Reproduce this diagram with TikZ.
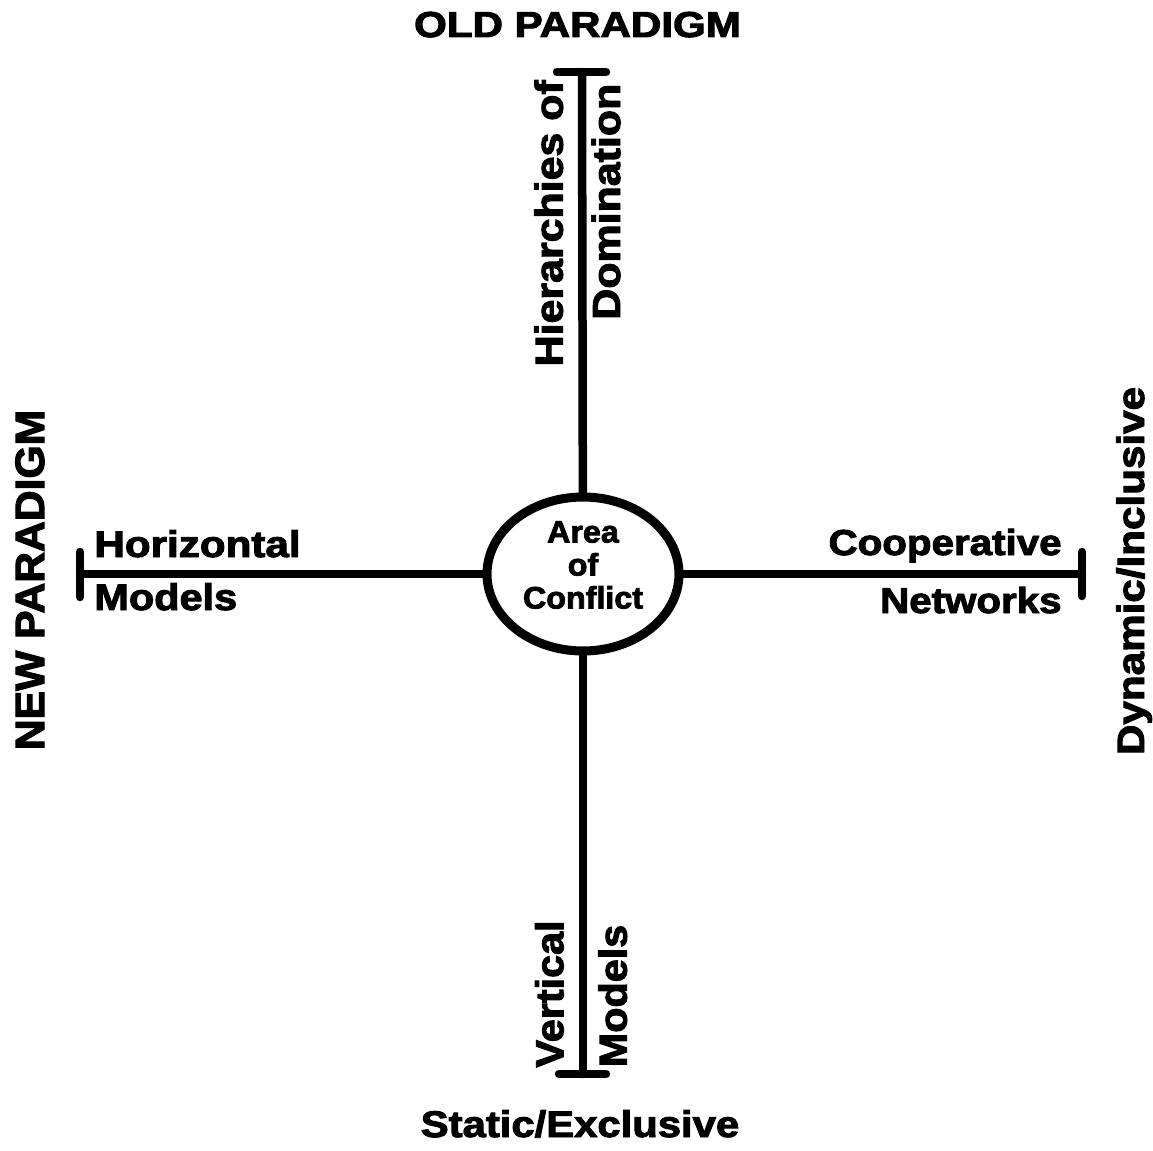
\documentclass[tikz,border=0pt]{standalone}
\usepackage{fontspec}
\setmainfont{Liberation Sans}[BoldFeatures={FakeBold=2.5}]
\usepackage{graphicx}
\usetikzlibrary{shapes.geometric, calc}
\newcommand{\wide}[2]{\scalebox{#1}[1]{#2}}
\tikzset{
  axis/.style={draw=black, line width=4.25pt, line cap=round},
  conflict/.style={draw=black, ellipse, line width=4.5pt, minimum width=96pt, minimum height=77pt, inner sep=0pt},
  paradigm/.style={font=\bfseries\fontsize{18.5}{21}\selectfont, inner sep=0pt, anchor=base},
  sidelabel/.style={font=\bfseries\fontsize{18.5}{21}\selectfont, inner sep=0pt},
  stemlabel/.style={font=\bfseries\fontsize{19.5}{22}\selectfont, inner sep=0pt, anchor=base, rotate=90},
  centrelabel/.style={font=\bfseries\fontsize{15.5}{16.5}\selectfont, inner sep=0pt, align=center}
}
\begin{document}
\begin{tikzpicture}[x=0.5pt, y=0.5pt]
  \useasboundingbox (0,0) rectangle (1153,-1151);

  % centre and the four axis ends
  \node [conflict] (conflict) at (583,-574) {};
  \node [centrelabel] (conflicttext) at (583,-565) {\wide{1.04}{Area}\\\wide{1.04}{of}\\\wide{1.04}{Conflict}};
  \coordinate (top) at (582,-72);
  \coordinate (bottom) at (583,-1074);
  \coordinate (left) at (80,-574);
  \coordinate (right) at (1082,-574);

  \draw [axis] (conflict) -- (top);
  \draw [axis] (conflict) -- (bottom);
  \draw [axis] (conflict) -- (left);
  \draw [axis] (conflict) -- (right);
  \draw [axis] ($(top)+(-25,0)$) -- ($(top)+(24,0)$);
  \draw [axis] ($(bottom)+(-24,0)$) -- ($(bottom)+(23,0)$);
  \draw [axis] ($(left)+(0,22)$) -- ($(left)+(0,-23)$);
  \draw [axis] ($(right)+(0,22)$) -- ($(right)+(0,-22)$);

  % paradigm titles
  \node [paradigm, font=\bfseries\fontsize{18}{21}\selectfont] (old) at (577.5,-37) {\wide{1.17}{OLD PARADIGM}};
  \node [paradigm] (static) at (580,-1137) {\wide{1.13}{Static/Exclusive}};
  \node [paradigm, rotate=90, font=\bfseries\fontsize{20.5}{22}\selectfont] (new) at (44,-580) {\wide{1.04}{NEW PARADIGM}};
  \node [paradigm, rotate=90, font=\bfseries\fontsize{19}{22}\selectfont] (dynamic) at (1144,-571) {\wide{1.11}{Dynamic/Inclusive}};

  % labels along the vertical axis
  \node [stemlabel] (hier) at (562.7,-223.3) {\wide{1.1}{Hierarchies of}};
  \node [stemlabel] (domin) at (620,-201.7) {\wide{1.1}{Domination}};
  \node [stemlabel] (vert) at (563.3,-994) {\wide{1.06}{Vertical}};
  \node [stemlabel] (vmodels) at (626.7,-996) {\wide{1.06}{Models}};

  % labels along the horizontal axis
  \node [sidelabel, anchor=base west] (horiz) at (94,-557) {\wide{1.14}{Horizontal}};
  \node [sidelabel, anchor=base west] (hmodels) at (94,-610) {\wide{1.12}{Models}};
  \node [sidelabel, anchor=base east, font=\bfseries\fontsize{18}{21}\selectfont] (coop) at (1062,-555) {\wide{1.12}{Cooperative}};
  \node [sidelabel, anchor=base east, font=\bfseries\fontsize{18}{21}\selectfont] (networks) at (1062,-613) {\wide{1.12}{Networks}};
\end{tikzpicture}
\end{document}
